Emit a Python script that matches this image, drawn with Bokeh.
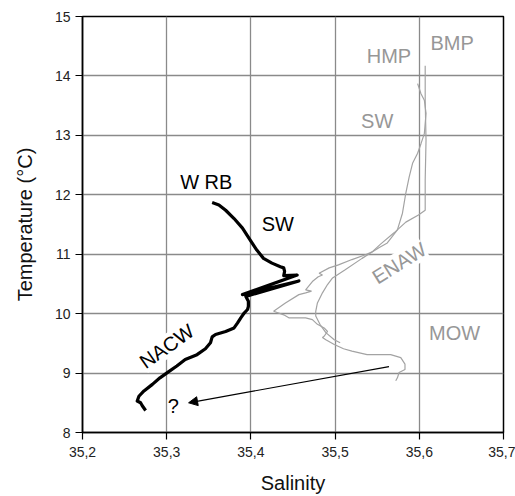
from bokeh.plotting import figure
from bokeh.models import Range1d, FixedTicker, Label, Arrow, NormalHead
from bokeh.embed import file_html
from bokeh.resources import INLINE
import math

# ---- data (salinity, temperature °C) ----
wrb_sal = [35.354, 35.362, 35.370, 35.380, 35.390, 35.399, 35.407, 35.415, 35.425, 35.435,
           35.439, 35.440, 35.439, 35.455, 35.390, 35.457, 35.394, 35.397, 35.397, 35.396,
           35.392, 35.388, 35.384, 35.380, 35.370, 35.358, 35.354, 35.352, 35.346, 35.336,
           35.322, 35.312, 35.302, 35.292, 35.283, 35.273, 35.267, 35.265, 35.269, 35.271, 35.275]
wrb_temp = [11.87, 11.83, 11.74, 11.60, 11.44, 11.24, 11.07, 10.93, 10.85, 10.79,
            10.77, 10.71, 10.64, 10.65, 10.32, 10.55, 10.29, 10.21, 10.12, 10.07,
            10.01, 9.93, 9.84, 9.76, 9.70, 9.65, 9.61, 9.51, 9.41, 9.31,
            9.23, 9.12, 9.02, 8.92, 8.81, 8.70, 8.61, 8.53, 8.50, 8.45, 8.37]

bmp_sal = [35.607, 35.607, 35.608, 35.607, 35.607, 35.599, 35.584, 35.570, 35.554, 35.544,
           35.536, 35.520, 35.504, 35.493, 35.481, 35.485, 35.480, 35.473, 35.465, 35.472,
           35.465, 35.457, 35.441, 35.427, 35.439, 35.445, 35.465, 35.473, 35.479, 35.487,
           35.491, 35.487, 35.485, 35.489, 35.499, 35.510, 35.520, 35.538, 35.566, 35.578,
           35.583, 35.583, 35.576, 35.574, 35.572]
bmp_temp = [14.17, 13.59, 12.92, 12.25, 11.74, 11.66, 11.54, 11.36, 11.17, 11.04,
            10.99, 10.91, 10.82, 10.77, 10.68, 10.65, 10.62, 10.54, 10.40, 10.38,
            10.35, 10.32, 10.18, 10.04, 9.98, 9.93, 9.93, 9.90, 9.82, 9.76,
            9.70, 9.62, 9.60, 9.56, 9.48, 9.41, 9.37, 9.31, 9.31, 9.26,
            9.15, 9.06, 9.01, 8.92, 8.87]

hmp_sal = [35.598, 35.602, 35.606, 35.608, 35.606, 35.602, 35.598, 35.592, 35.588, 35.584,
           35.580, 35.574, 35.568, 35.562, 35.552, 35.532, 35.512, 35.497, 35.491, 35.485,
           35.479, 35.477, 35.477, 35.482, 35.489, 35.499, 35.506]
hmp_temp = [13.87, 13.70, 13.59, 13.37, 13.03, 12.86, 12.70, 12.53, 12.30, 12.03,
            11.69, 11.41, 11.30, 11.19, 11.11, 10.93, 10.74, 10.60, 10.49, 10.35,
            10.18, 10.04, 9.96, 9.82, 9.68, 9.56, 9.51]

arrow_start = (35.564, 9.107)
arrow_end = (35.326, 8.50)

x_ticks = [35.2, 35.3, 35.4, 35.5, 35.6, 35.7]
x_tick_labels = ["35,2", "35,3", "35,4", "35,5", "35,6", "35,7"]
y_ticks = [8, 9, 10, 11, 12, 13, 14, 15]

black_labels = [("W RB", 35.347, 12.22, 0), ("SW", 35.432, 11.51, 0),
                ("NACW", 35.300, 9.45, 35), ("?", 35.308, 8.44, 0)]
gray_labels = [("HMP", 35.564, 14.34, 0), ("BMP", 35.639, 14.56, 0),
               ("SW", 35.550, 13.25, 0), ("ENAW", 35.576, 10.85, 32),
               ("MOW", 35.642, 9.68, 0)]

FONT = "Liberation Sans"
GRAY_TXT = "#979797"
GRAY_LINE = "#a3a3a3"

p = figure(width=515, height=496, output_backend="svg", toolbar_location=None,
           x_range=Range1d(35.2, 35.7), y_range=Range1d(8, 15),
           min_border_left=82, min_border_right=12, min_border_top=16, min_border_bottom=63)

p.outline_line_color = "black"
p.outline_line_width = 1.5
p.background_fill_color = "white"
p.border_fill_color = "white"

for ax in (p.xaxis[0], p.yaxis[0]):
    ax.axis_line_color = "black"
    ax.axis_line_width = 1.5
    ax.major_tick_line_color = "black"
    ax.major_tick_line_width = 1.2
    ax.major_tick_out = 7
    ax.major_tick_in = 0
    ax.minor_tick_line_color = None
    ax.major_label_text_font = FONT
    ax.major_label_text_font_size = "14px"
    ax.major_label_text_color = "#222222"
    ax.axis_label_text_font = FONT
    ax.axis_label_text_font_size = "20px"
    ax.axis_label_text_font_style = "normal"
    ax.axis_label_text_color = "#111111"

p.xaxis.ticker = FixedTicker(ticks=x_ticks)
p.xaxis.major_label_overrides = {t: l for t, l in zip(x_ticks, x_tick_labels)}
p.yaxis.ticker = FixedTicker(ticks=y_ticks)
p.xaxis.axis_label = "Salinity"
p.yaxis.axis_label = "Temperature (°C)"
p.xaxis.major_label_standoff = 7
p.yaxis.major_label_standoff = 5
p.xaxis.axis_label_standoff = 12
p.yaxis.axis_label_standoff = 16

p.xgrid.grid_line_color = "#8a8a8a"
p.ygrid.grid_line_color = "#8a8a8a"
p.xgrid.grid_line_width = 1.3
p.ygrid.grid_line_width = 1.3

p.line(bmp_sal, bmp_temp, line_color=GRAY_LINE, line_width=1.2)
p.line(hmp_sal, hmp_temp, line_color=GRAY_LINE, line_width=1.2)
p.line(wrb_sal, wrb_temp, line_color="black", line_width=3.2, line_join="round")

p.add_layout(Arrow(end=NormalHead(size=9, fill_color="black", line_color="black"),
                   x_start=arrow_start[0], y_start=arrow_start[1],
                   x_end=arrow_end[0], y_end=arrow_end[1],
                   line_color="black", line_width=1.2))

for txt, x, y, ang in black_labels:
    p.add_layout(Label(x=x, y=y, text=txt, angle=math.radians(ang), text_align="center",
                       text_baseline="middle", text_font=FONT, text_font_size="20px",
                       text_color="black",
                       background_fill_color="white" if ang else None))
for txt, x, y, ang in gray_labels:
    p.add_layout(Label(x=x, y=y, text=txt, angle=math.radians(ang), text_align="center",
                       text_baseline="middle", text_font=FONT, text_font_size="20px",
                       text_color=GRAY_TXT,
                       background_fill_color="white" if ang else None))

open("out.html", "w").write(file_html(p, INLINE))
